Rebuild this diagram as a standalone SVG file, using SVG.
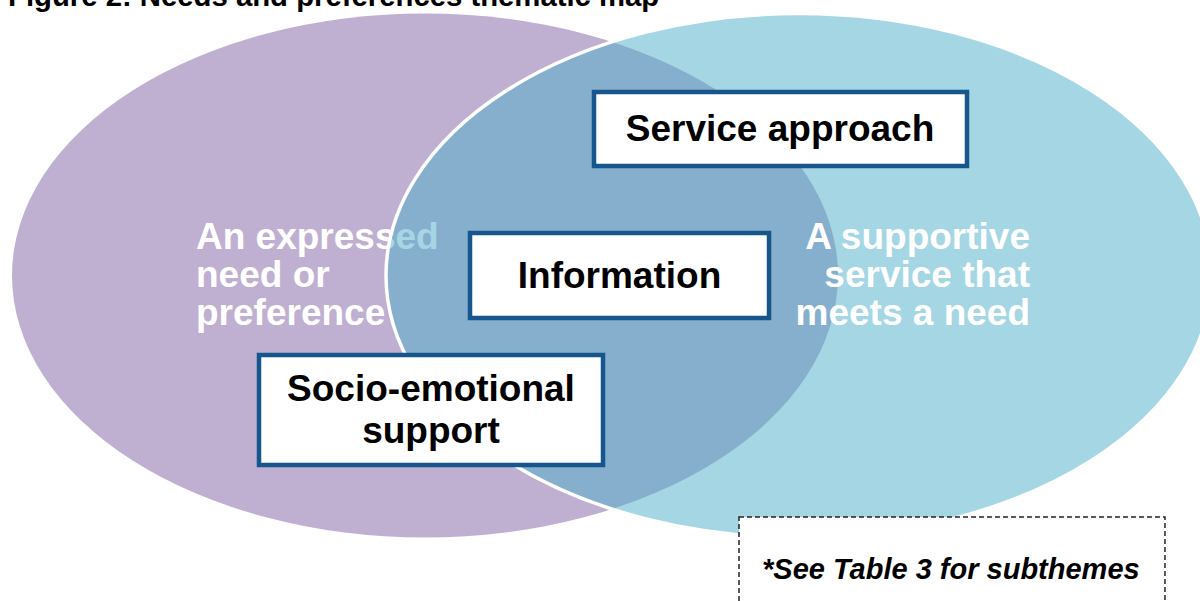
<svg xmlns="http://www.w3.org/2000/svg" width="1200" height="601" viewBox="0 0 1200 601">
<style>
.t{font-family:"Liberation Sans",Arial,sans-serif;font-weight:bold}
.lbl{fill:#ffffff;font-size:37px}
.box rect{fill:#ffffff;stroke:#17568c;stroke-width:4.5}
.box text{fill:#000000;font-size:37px;text-anchor:middle}
</style>
<rect width="1200" height="601" fill="#ffffff"/>
<text class="t" x="8" y="6" font-size="29.3" fill="#000000">Figure 2: Needs and preferences thematic map</text>
<g id="left-ellipse">
<ellipse cx="425" cy="275.5" rx="413" ry="262" fill="#bfb0d1"/>
<text class="t lbl"><tspan x="196" y="249">An expressed</tspan><tspan x="196" y="287">need or</tspan><tspan x="196" y="325">preference</tspan></text>
</g>
<g id="right-ellipse">
<ellipse cx="799" cy="275.5" rx="413" ry="262" fill="#4badc7" fill-opacity="0.5" stroke="#ffffff" stroke-width="3.5"/>
<text class="t lbl" text-anchor="end"><tspan x="1030" y="249">A supportive</tspan><tspan x="1030" y="287">service that</tspan><tspan x="1030" y="325">meets a need</tspan></text>
</g>
<g id="connectors"/>
<g id="service-approach" class="box">
<rect x="594" y="92" width="373" height="74"/>
<text class="t" x="780" y="141">Service approach</text>
</g>
<g id="information" class="box">
<rect x="470" y="233" width="299" height="85"/>
<text class="t" x="619.5" y="288">Information</text>
</g>
<g id="socio-emotional-support" class="box">
<rect x="259" y="355" width="344" height="110"/>
<text class="t"><tspan x="431" y="401">Socio-emotional</tspan><tspan x="431" y="443">support</tspan></text>
</g>
<g id="note">
<rect x="739" y="517" width="426" height="100" fill="#ffffff" stroke="#222222" stroke-width="1.5" stroke-dasharray="5 3"/>
<text class="t" x="762" y="579" font-size="29" font-style="italic" fill="#000000">*See Table 3 for subthemes</text>
</g>
</svg>
